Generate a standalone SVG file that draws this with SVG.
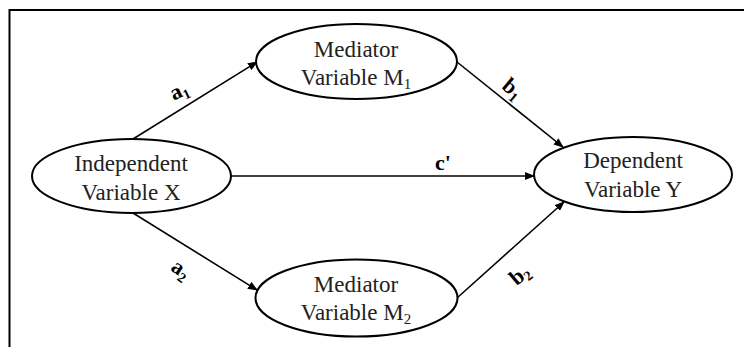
<svg xmlns="http://www.w3.org/2000/svg" width="744" height="347" viewBox="0 0 744 347">
<style>
.node ellipse{fill:#fff;stroke:#000;stroke-width:2}
.n{font-size:23px;fill:#222;text-anchor:middle}
.lbl{font-size:22px;font-weight:bold;fill:#000;text-anchor:middle}
.edges line{stroke:#000;stroke-width:1.6;marker-end:url(#arr)}
</style>
<defs>
<marker id="arr" markerUnits="userSpaceOnUse" markerWidth="10" markerHeight="8" refX="9" refY="4" orient="auto">
<path d="M0,0 L10,4 L0,8 z" fill="#000"/>
</marker>
</defs>
<rect width="744" height="347" fill="#fff"/>
<path d="M9.5,347 V10 H744" fill="none" stroke="#000" stroke-width="2"/>
<g class="edges">
<line x1="133" y1="139" x2="257" y2="62"/>
<line x1="457" y1="62" x2="563" y2="147"/>
<line x1="231" y1="176" x2="534" y2="176"/>
<line x1="133" y1="213" x2="257" y2="290"/>
<line x1="457" y1="298" x2="564" y2="202"/>
</g>
<g font-family="Liberation Serif, DejaVu Serif, serif">
<g id="m1" class="node">
<ellipse cx="356.5" cy="61.5" rx="100.5" ry="37.5"/>
<text class="n" x="356" y="57">Mediator</text>
<text class="n" x="356" y="85">Variable M<tspan font-size="15" dy="4">1</tspan></text>
</g>
<g id="x" class="node">
<ellipse cx="131.5" cy="176" rx="99.5" ry="37"/>
<text class="n" x="131" y="171">Independent</text>
<text class="n" x="131" y="200">Variable X</text>
</g>
<g id="y" class="node">
<ellipse cx="633" cy="174.5" rx="99" ry="37.5"/>
<text class="n" x="633" y="168">Dependent</text>
<text class="n" x="633" y="197">Variable Y</text>
</g>
<g id="m2" class="node">
<ellipse cx="356.5" cy="298" rx="101" ry="38.5"/>
<text class="n" x="356" y="292">Mediator</text>
<text class="n" x="356" y="320">Variable M<tspan font-size="15" dy="4">2</tspan></text>
</g>
<g id="labels">
<text class="lbl" transform="translate(182,97) rotate(-25)">a<tspan font-size="14" dy="4">1</tspan></text>
<text class="lbl" transform="translate(508,94) rotate(40)">b<tspan font-size="14" dy="4">1</tspan></text>
<text class="lbl" x="443" y="170">c'</text>
<text class="lbl" transform="translate(177,275) rotate(35)">a<tspan font-size="14" dy="4">2</tspan></text>
<text class="lbl" transform="translate(524,280) rotate(-40)">b<tspan font-size="14" dy="4">2</tspan></text>
</g>
</g>
</svg>
